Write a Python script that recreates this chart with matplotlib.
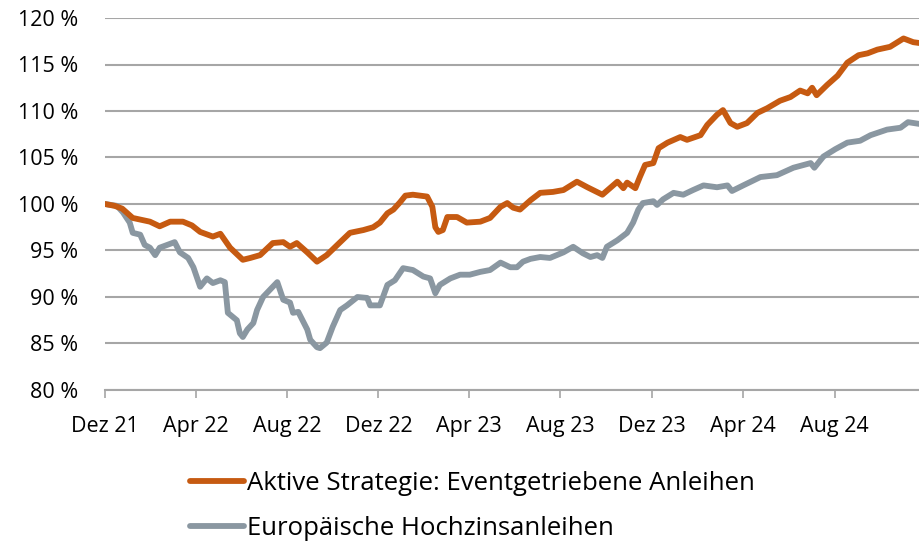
import numpy as np
import pandas as pd
import matplotlib
matplotlib.use('Agg')
import matplotlib.pyplot as plt

plt.rcParams['font.family'] = ['Open Sans', 'DejaVu Sans']

font_size = 15.5

# Aktive Strategie: Eventgetriebene Anleihen (indexiert, %)
strat_dates = [
    '2021-12-01', '2021-12-14', '2021-12-24', '2022-01-07', '2022-01-30',
    '2022-02-12', '2022-02-26', '2022-03-15', '2022-03-27', '2022-04-07',
    '2022-04-24', '2022-05-04', '2022-05-17', '2022-06-03', '2022-06-13',
    '2022-06-26', '2022-07-13', '2022-07-27', '2022-08-05', '2022-08-14',
    '2022-08-28', '2022-09-10', '2022-09-23', '2022-10-11', '2022-10-24',
    '2022-11-11', '2022-11-24', '2022-12-03', '2022-12-13', '2022-12-21',
    '2022-12-30', '2023-01-06', '2023-01-16', '2023-02-04', '2023-02-11',
    '2023-02-15', '2023-02-19', '2023-02-25', '2023-03-03', '2023-03-16',
    '2023-03-29', '2023-04-16', '2023-04-29', '2023-05-13', '2023-05-22',
    '2023-05-30', '2023-06-08', '2023-06-22', '2023-07-05', '2023-07-22',
    '2023-08-05', '2023-08-23', '2023-09-06', '2023-09-26', '2023-10-06',
    '2023-10-16', '2023-10-24', '2023-10-29', '2023-11-09', '2023-11-15',
    '2023-11-22', '2023-12-03', '2023-12-10', '2023-12-22', '2024-01-08',
    '2024-01-17', '2024-02-04', '2024-02-13', '2024-02-26', '2024-03-05',
    '2024-03-15', '2024-03-24', '2024-04-06', '2024-04-20', '2024-05-03',
    '2024-05-20', '2024-06-03', '2024-06-16', '2024-06-26', '2024-07-02',
    '2024-07-08', '2024-07-22', '2024-08-05', '2024-08-18', '2024-09-02',
    '2024-09-14', '2024-09-27', '2024-10-14', '2024-11-01', '2024-11-14',
    '2024-11-23',
]
strat_values = [
    100.0, 99.8, 99.5, 98.5, 98.1,
    97.6, 98.1, 98.1, 97.7, 97.0,
    96.5, 96.8, 95.3, 94.0, 94.2,
    94.5, 95.8, 95.9, 95.4, 95.8,
    94.8, 93.8, 94.5, 95.9, 96.9,
    97.2, 97.5, 98.0, 99.0, 99.4,
    100.2, 100.9, 101.0, 100.8, 99.7,
    97.5, 97.0, 97.2, 98.6, 98.6,
    98.0, 98.1, 98.5, 99.7, 100.1,
    99.6, 99.4, 100.4, 101.2, 101.3,
    101.5, 102.4, 101.8, 101.0, 101.7,
    102.4, 101.7, 102.3, 101.7, 102.9,
    104.2, 104.4, 106.0, 106.6, 107.2,
    106.9, 107.4, 108.5, 109.6, 110.1,
    108.7, 108.3, 108.7, 109.8, 110.3,
    111.1, 111.5, 112.2, 111.9, 112.5,
    111.7, 112.8, 113.8, 115.2, 116.0,
    116.2, 116.6, 116.9, 117.8, 117.4,
    117.3,
]

# Europaeische Hochzinsanleihen (indexiert, %)
hy_dates = [
    '2021-12-01', '2021-12-17', '2021-12-25', '2022-01-03', '2022-01-07',
    '2022-01-17', '2022-01-23', '2022-01-30', '2022-02-06', '2022-02-12',
    '2022-02-22', '2022-03-04', '2022-03-11', '2022-03-22', '2022-03-29',
    '2022-04-07', '2022-04-16', '2022-04-24', '2022-05-04', '2022-05-10',
    '2022-05-14', '2022-05-26', '2022-05-30', '2022-06-03', '2022-06-09',
    '2022-06-17', '2022-06-22', '2022-06-30', '2022-07-13', '2022-07-19',
    '2022-07-27', '2022-08-05', '2022-08-09', '2022-08-16', '2022-08-28',
    '2022-09-01', '2022-09-10', '2022-09-14', '2022-09-23', '2022-10-01',
    '2022-10-11', '2022-10-20', '2022-11-03', '2022-11-16', '2022-11-20',
    '2022-12-03', '2022-12-13', '2022-12-23', '2023-01-03', '2023-01-16',
    '2023-01-30', '2023-02-08', '2023-02-15', '2023-02-21', '2023-03-07',
    '2023-03-20', '2023-04-02', '2023-04-16', '2023-04-29', '2023-05-13',
    '2023-05-26', '2023-06-04', '2023-06-12', '2023-06-22', '2023-07-05',
    '2023-07-18', '2023-08-05', '2023-08-18', '2023-08-31', '2023-09-10',
    '2023-09-19', '2023-09-26', '2023-10-02', '2023-10-16', '2023-10-29',
    '2023-11-06', '2023-11-13', '2023-11-19', '2023-12-03', '2023-12-08',
    '2023-12-16', '2023-12-30', '2024-01-12', '2024-01-25', '2024-02-08',
    '2024-02-26', '2024-03-11', '2024-03-17', '2024-04-01', '2024-04-24',
    '2024-05-16', '2024-06-07', '2024-06-30', '2024-07-05', '2024-07-17',
    '2024-08-02', '2024-08-18', '2024-09-04', '2024-09-18', '2024-10-10',
    '2024-10-28', '2024-11-07', '2024-11-23',
]
hy_values = [
    100.0, 99.8, 99.1, 98.0, 96.9,
    96.7, 95.6, 95.3, 94.5, 95.3,
    95.6, 95.9, 94.8, 94.2, 93.2,
    91.1, 92.0, 91.5, 91.8, 91.6,
    88.3, 87.5, 86.1, 85.7, 86.5,
    87.2, 88.6, 90.0, 91.1, 91.6,
    89.7, 89.4, 88.3, 88.4, 86.5,
    85.4, 84.6, 84.5, 85.1, 86.8,
    88.6, 89.1, 90.0, 89.9, 89.1,
    89.1, 91.3, 91.8, 93.1, 92.9,
    92.2, 92.0, 90.4, 91.3, 92.0,
    92.4, 92.4, 92.7, 92.9, 93.7,
    93.2, 93.2, 93.8, 94.1, 94.3,
    94.2, 94.8, 95.4, 94.7, 94.3,
    94.5, 94.2, 95.4, 96.1, 96.9,
    98.0, 99.4, 100.1, 100.3, 99.9,
    100.5, 101.2, 101.0, 101.5, 102.0,
    101.8, 102.0, 101.4, 102.0, 102.9,
    103.1, 103.9, 104.4, 103.9, 105.1,
    105.9, 106.6, 106.8, 107.4, 108.0,
    108.2, 108.8, 108.6,
]

tick_dates = ['2021-12-01', '2022-04-01', '2022-08-01', '2022-12-01',
              '2023-04-01', '2023-08-01', '2023-12-01', '2024-04-01',
              '2024-08-01']
tick_labels = ['Dez 21', 'Apr 22', 'Aug 22', 'Dez 22', 'Apr 23',
               'Aug 23', 'Dez 23', 'Apr 24', 'Aug 24']
y_ticks = [80, 85, 90, 95, 100, 105, 110, 115, 120]

orange = '#C65A11'
grey = '#8A97A1'
grid_col = '#A6A6A6'

fig = plt.figure(figsize=(9.2, 5.42), dpi=100)
ax = fig.add_axes([105 / 920, 152 / 542, 815 / 920, 372 / 542])

ax.plot(pd.to_datetime(strat_dates), strat_values, color=orange, lw=4.2,
        solid_capstyle='round', solid_joinstyle='round', zorder=3,
        label='Aktive Strategie: Eventgetriebene Anleihen')
ax.plot(pd.to_datetime(hy_dates), hy_values, color=grey, lw=4.2,
        solid_capstyle='round', solid_joinstyle='round', zorder=2,
        label='Europäische Hochzinsanleihen')

ax.set_ylim(80, 120)
ax.set_yticks(y_ticks)
ax.set_yticklabels(['{} %'.format(t) for t in y_ticks])
ax.set_xlim(pd.Timestamp(strat_dates[0]), pd.Timestamp(strat_dates[-1]))
ax.set_xticks(pd.to_datetime(tick_dates))
ax.set_xticklabels(tick_labels)

ax.grid(axis='y', color=grid_col, lw=1.5)
ax.set_axisbelow(True)
for side in ['top', 'right', 'left']:
    ax.spines[side].set_visible(False)
ax.spines['bottom'].set_color(grid_col)
ax.spines['bottom'].set_linewidth(1.5)

ax.tick_params(axis='y', length=0, pad=19, labelsize=font_size)
ax.tick_params(axis='x', length=6, width=1.2, color=grid_col, pad=13,
               labelsize=font_size)

fig.legend(loc='upper left', bbox_to_anchor=(190 / 920, 1 - 471 / 542),
           frameon=False, fontsize=18.5, handlelength=2.1,
           handletextpad=0.1, labelspacing=0.78, borderaxespad=0,
           borderpad=0)

fig.savefig('out.png', dpi=100)
